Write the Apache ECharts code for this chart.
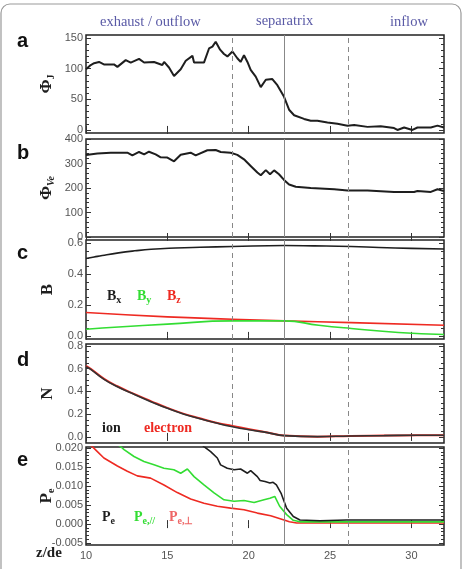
<!DOCTYPE html>
<html>
<head>
<meta charset="utf-8">
<script src="https://cdn.jsdelivr.net/npm/echarts@6/dist/echarts.min.js"></script>
<style>
    html, body { margin: 0; padding: 0; background: #fff; }
    #container { width: 463px; height: 569px; }
</style>
</head>
<body>
<div id="container"></div>
<script>
// ---- data ----
var zTicks = [10, 15, 20, 25, 30];
var regionLines = [19.0, 22.2, 26.1];

// panel a : Phi_J
var zA = [10.0, 10.29, 10.5, 10.8, 11.1, 11.72, 11.93, 12.44, 12.75, 13.26, 13.57, 14.18, 14.69, 14.8, 15.1, 15.41, 15.82, 16.13, 16.54, 16.64, 17.25, 17.56, 17.77, 17.97, 18.24, 18.48, 18.69, 19.0, 19.3, 19.5, 19.71, 19.92, 20.12, 20.43, 20.74, 21.05, 21.45, 21.76, 22.17, 22.48, 22.79, 23.4, 23.81, 24.22, 24.84, 25.45, 26.07, 26.48, 27.3, 28.11, 28.93, 29.14, 29.55, 30.06, 30.37, 31.19, 31.6, 32.0];
var phiJ = [99, 106, 109, 111, 107, 107, 103, 114, 110, 116, 110, 111, 106, 111, 102, 88, 99, 113, 121, 110, 110, 133, 136, 144, 131, 124, 120, 128, 117, 111, 122, 111, 98, 87, 70, 82, 83, 73, 54, 33, 24, 18, 15, 15, 12, 10, 7, 8, 5, 6, 3, 0, 4, 0, 4, 4, 7, 4];

// panel b : Phi_Ve
var zB = [10.0, 10.7, 11.52, 12.54, 12.85, 13.26, 13.57, 13.87, 14.28, 14.59, 15.0, 15.41, 15.82, 16.43, 16.74, 17.46, 17.97, 18.28, 18.89, 19.3, 19.71, 20.12, 20.53, 20.74, 21.05, 21.31, 21.56, 21.86, 22.17, 22.48, 22.89, 23.81, 25.25, 26.07, 27.3, 28.93, 30.16, 30.37, 31.19, 31.6, 32.0];
var phiVe = [335, 341, 344, 344, 333, 347, 337, 348, 337, 325, 324, 309, 336, 344, 333, 354, 355, 347, 344, 335, 317, 290, 263, 252, 273, 256, 272, 256, 233, 214, 205, 200, 195, 190, 190, 184, 184, 188, 184, 195, 188];

// panel c : B components
var zBx = [10, 10.5, 11, 12, 13, 14, 15.5, 17, 19, 22.2, 24, 26.3, 28, 30, 32];
var bx = [0.50, 0.51, 0.52, 0.537, 0.55, 0.56, 0.568, 0.573, 0.578, 0.584, 0.582, 0.578, 0.572, 0.566, 0.562];
var zBy = [10, 12, 15, 19, 22.2, 24.3, 26.3, 29.2, 32];
var by = [0.043, 0.058, 0.076, 0.097, 0.097, 0.069, 0.048, 0.022, 0.009];
var zBz = [10, 15, 19, 22.2, 26.3, 32];
var bz = [0.151, 0.123, 0.108, 0.097, 0.086, 0.069];

// panel d : density
var zN = [10, 10.29, 11.11, 11.93, 12.95, 13.98, 15.0, 16.02, 17.05, 18.07, 19.0, 20.12, 21.15, 22.17, 24.22, 26.27, 28.32, 30.37, 32];
var nIon = [0.617, 0.594, 0.506, 0.441, 0.374, 0.31, 0.251, 0.20, 0.158, 0.12, 0.09, 0.061, 0.038, 0.012, 0.003, 0.009, 0.012, 0.015, 0.015];
var nElectron = [0.625, 0.598, 0.51, 0.445, 0.378, 0.315, 0.255, 0.203, 0.162, 0.122, 0.097, 0.066, 0.04, 0.012, 0.002, 0.009, 0.012, 0.015, 0.015];

// panel e : electron pressure
var zPe = [17.0, 17.25, 17.66, 18.07, 18.27, 18.68, 19.1, 19.5, 19.92, 20.12, 20.53, 20.7, 21.0, 21.3, 21.5, 21.7, 22.0, 22.33, 22.74, 23.15, 24.38, 26, 28, 30, 32];
var pe = [0.0215, 0.0204, 0.0191, 0.0174, 0.0156, 0.0147, 0.0143, 0.0145, 0.0134, 0.0141, 0.0125, 0.0115, 0.0112, 0.0108, 0.011, 0.0103, 0.008, 0.0042, 0.002, 0.0011, 0.0009, 0.0011, 0.0011, 0.0011, 0.0011];
var zPar = [11.7, 12.1, 12.34, 12.95, 13.56, 14.18, 14.79, 15.4, 15.82, 16.23, 16.64, 17.25, 17.87, 18.48, 19.1, 19.71, 20.33, 20.94, 21.3, 21.6, 21.9, 22.33, 22.74, 23.15, 25, 28, 32];
var pePar = [0.0215, 0.0205, 0.0196, 0.0178, 0.0165, 0.0156, 0.0147, 0.0143, 0.0134, 0.0145, 0.0125, 0.0103, 0.0082, 0.0064, 0.006, 0.0062, 0.0057, 0.0064, 0.0068, 0.0073, 0.0047, 0.0025, 0.001, 0.0006, 0.0006, 0.0006, 0.0006];
var zPerp = [10, 10.39, 10.7, 11.1, 11.93, 12.54, 13.15, 13.97, 14.79, 15.61, 16.43, 17.25, 18.07, 18.89, 19.71, 20.53, 21.35, 22.17, 22.5, 22.95, 25, 28, 32];
var pePerp = [0.0215, 0.0204, 0.0191, 0.0174, 0.0153, 0.0139, 0.0127, 0.0121, 0.0103, 0.0083, 0.0066, 0.0055, 0.0047, 0.0042, 0.0038, 0.0029, 0.0022, 0.0011, 0.0006, 0.0003, 0.0003, 0.0003, 0.0003];

// y tick labels per panel
var ticksA = [0, 50, 100, 150];
var ticksB = [0, 100, 200, 300, 400];
var ticksC = [0, 0.2, 0.4, 0.6];
var ticksD = [0, 0.2, 0.4, 0.6, 0.8];
var ticksE = [-0.005, 0, 0.005, 0.01, 0.015, 0.02];

function pairs(xs, ys) {
    var out = [];
    for (var i = 0; i < xs.length; i++) out.push([xs[i], ys[i]]);
    return out;
}
function steps(from, to, step) {
    var out = [];
    var n = Math.round((to - from) / step);
    for (var i = 0; i <= n; i++) out.push(+(from + i * step).toFixed(6));
    return out;
}

var BLACK = '#1e1e1e', RED = '#ee2a22', GREEN = '#33dd33';
var serif = 'Liberation Serif';
var sans = 'Liberation Sans';

var panels = [
    {top: 35, h: 98, min: -5, max: 155, major: ticksA, minor: steps(0, 150, 10), fmt: function (v) { return v.toFixed(0); },
        name: '{a|Φ}{s|J}'},
    {top: 139, h: 98, min: 0, max: 400, major: ticksB, minor: steps(0, 400, 20), fmt: function (v) { return v.toFixed(0); },
        name: '{a|Φ}{si|Ve}'},
    {top: 240, h: 99, min: -0.02, max: 0.62, major: ticksC, minor: steps(0, 0.6, 0.05), fmt: function (v) { return v.toFixed(1); },
        name: '{a|B}'},
    {top: 344, h: 99, min: -0.053, max: 0.816, major: ticksD, minor: steps(0, 0.8, 0.05), fmt: function (v) { return v.toFixed(1); },
        name: '{a|N}'},
    {top: 447, h: 98, min: -0.0055, max: 0.0203, major: ticksE, minor: steps(-0.005, 0.02, 0.001), fmt: function (v) { return v.toFixed(3); },
        name: '{a|P}{s|e}'}
];

var grids = [], xAxes = [], yAxes = [];
panels.forEach(function (p, i) {
    grids.push({left: 86, width: 358, top: p.top, height: p.h, show: true,
        borderColor: '#222', borderWidth: 1.5, backgroundColor: 'transparent'});
    ['bottom', 'top'].forEach(function (pos) {
        xAxes.push({
            type: 'value', gridIndex: i, min: 10, max: 32, position: pos,
            axisLine: {show: false}, splitLine: {show: false},
            axisTick: {inside: true, length: 4, customValues: zTicks, lineStyle: {color: '#333'}},
            axisLabel: {show: pos === 'bottom' && i === 4, customValues: zTicks, color: '#555',
                fontFamily: sans, fontSize: 11, margin: 5}
        });
    });
    ['left', 'right'].forEach(function (pos) {
        yAxes.push({
            type: 'value', gridIndex: i, min: p.min, max: p.max, position: pos,
            axisLine: {show: false}, splitLine: {show: false},
            axisTick: {inside: true, length: 5, customValues: p.major, lineStyle: {color: '#333'}},
            axisLabel: {show: pos === 'left', customValues: p.major, formatter: p.fmt,
                color: '#555', fontFamily: sans, fontSize: 11, margin: 3},
            name: pos === 'left' ? p.name : '', nameLocation: 'middle', nameRotate: 90, nameGap: 30,
            nameMoveOverlap: false,
            nameTextStyle: {color: BLACK, fontFamily: serif, fontWeight: 'bold',
                rich: {
                    a: {fontSize: 17, fontFamily: serif, fontWeight: 'bold', color: BLACK},
                    s: {fontSize: 10, fontFamily: serif, fontWeight: 'bold', color: BLACK, padding: [9, 0, 0, 0]},
                    si: {fontSize: 10, fontFamily: serif, fontStyle: 'italic', color: BLACK, padding: [9, 0, 0, 0]}
                }}
        });
        yAxes.push({
            type: 'value', gridIndex: i, min: p.min, max: p.max, position: pos,
            axisLine: {show: false}, splitLine: {show: false},
            axisTick: {inside: true, length: 3, customValues: p.minor, lineStyle: {color: '#333'}},
            axisLabel: {show: false}
        });
    });
});

var markLine = {
    silent: true, symbol: 'none', label: {show: false},
    lineStyle: {color: '#888', width: 1},
    data: [
        {xAxis: regionLines[0], lineStyle: {type: [5, 4]}},
        {xAxis: regionLines[1], lineStyle: {type: 'solid'}},
        {xAxis: regionLines[2], lineStyle: {type: [5, 4]}}
    ]
};

function line(i, xs, ys, color, width, extra) {
    var s = {
        type: 'line', xAxisIndex: 2 * i, yAxisIndex: 4 * i,
        data: pairs(xs, ys), symbol: 'none', clip: true,
        lineStyle: {color: color, width: width}
    };
    for (var k in extra) s[k] = extra[k];
    return s;
}

var series = [
    line(0, zA, phiJ, BLACK, 2, {markLine: markLine}),
    line(1, zB, phiVe, BLACK, 2, {markLine: markLine}),
    line(2, zBz, bz, RED, 1.6, {smooth: true, markLine: markLine}),
    line(2, zBy, by, GREEN, 1.6, {smooth: true}),
    line(2, zBx, bx, BLACK, 1.6, {smooth: true}),
    line(3, zN, nElectron, RED, 2, {smooth: true, markLine: markLine}),
    line(3, zN, nIon, '#333', 1.6, {smooth: true}),
    line(4, zPerp, pePerp, RED, 1.6, {markLine: markLine}),
    line(4, zPar, pePar, GREEN, 1.6),
    line(4, zPe, pe, BLACK, 1.6)
];

function subText(x, y, main, sub, color) {
    return {type: 'text', x: x, y: y, z: 100, style: {
        text: '{m|' + main + '}{s|' + sub + '}',
        rich: {
            m: {fontFamily: serif, fontWeight: 'bold', fontSize: 14, fill: color},
            s: {fontFamily: serif, fontWeight: 'bold', fontSize: 10, fill: color, padding: [8, 0, 0, 0]}
        }
    }};
}

var letters = [['a', 31], ['b', 143], ['c', 243], ['d', 350], ['e', 450]];
var graphics = [
    {type: 'rect', shape: {x: 1, y: 4, width: 460, height: 590, r: 9},
        style: {fill: 'none', stroke: '#999', lineWidth: 1.2}, z: 100},
    {type: 'text', left: 100, top: 15, style: {text: 'exhaust / outflow', fontFamily: serif, fontSize: 14.5, fill: '#5a5aa6'}},
    {type: 'text', left: 256, top: 14, style: {text: 'separatrix', fontFamily: serif, fontSize: 14.5, fill: '#5a5aa6'}},
    {type: 'text', left: 390, top: 15, style: {text: 'inflow', fontFamily: serif, fontSize: 14.5, fill: '#5a5aa6'}},
    {type: 'text', left: 36, top: 546, style: {text: 'z/de', fontFamily: serif, fontWeight: 'bold', fontSize: 15, fill: BLACK}},
    subText(107, 287, 'B', 'x', BLACK),
    subText(137, 287, 'B', 'y', GREEN),
    subText(167, 287, 'B', 'z', RED),
    {type: 'text', left: 102, top: 421, style: {text: 'ion', fontFamily: serif, fontWeight: 'bold', fontSize: 14, fill: BLACK}},
    {type: 'text', left: 144, top: 421, style: {text: 'electron', fontFamily: serif, fontWeight: 'bold', fontSize: 14, fill: RED}},
    subText(102, 508, 'P', 'e', BLACK),
    subText(134, 508, 'P', 'e,//', GREEN),
    subText(169, 508, 'P', 'e,⊥', '#ee6666')
];
letters.forEach(function (l) {
    graphics.push({type: 'text', left: 17, top: l[1], style: {text: l[0], fontFamily: sans, fontWeight: 'bold', fontSize: 20, fill: '#111'}});
});

var myChart = echarts.init(document.getElementById('container'));
myChart.setOption({
    animation: false,
    backgroundColor: '#fff',
    grid: grids,
    xAxis: xAxes,
    yAxis: yAxes,
    series: series,
    graphic: graphics
});
</script>
</body>
</html>
